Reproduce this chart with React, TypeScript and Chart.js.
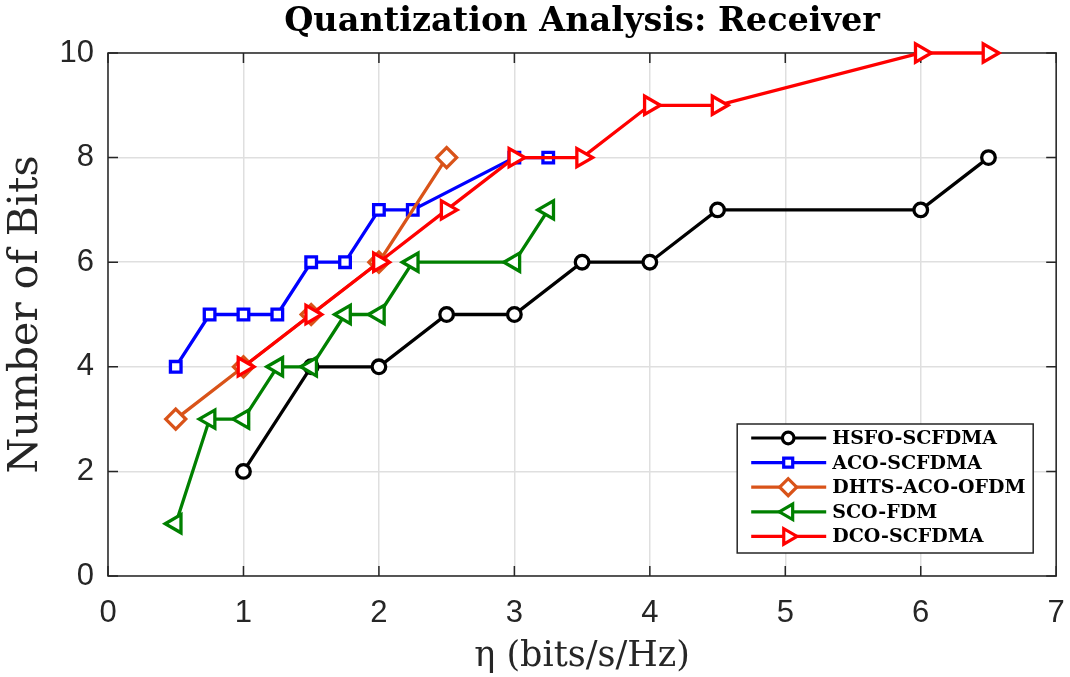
import React, { useEffect, useRef } from 'react';
import { Chart, registerables } from 'chart.js';
import { drawPoint } from 'chart.js/helpers';

Chart.register(...registerables);

const chartTitle = 'Quantization Analysis: Receiver';
const xAxisLabel = 'η (bits/s/Hz)';
const yAxisLabel = 'Number of Bits';

const seriesLabels = ['HSFO-SCFDMA', 'ACO-SCFDMA', 'DHTS-ACO-OFDM', 'SCO-FDM', 'DCO-SCFDMA'];
const seriesColors = ['#000000', '#0000ff', '#d95319', '#008000', '#ff0000'];

const hsfoX = [1, 1.5, 2, 2.5, 3, 3.5, 4, 4.5, 6, 6.5];
const hsfoY = [2, 4, 4, 5, 5, 6, 6, 7, 7, 8];
const acoX = [0.5, 0.75, 1, 1.25, 1.5, 1.75, 2, 2.25, 3, 3.25];
const acoY = [4, 5, 5, 5, 6, 6, 7, 7, 8, 8];
const dhtsX = [0.5, 1, 1.5, 2, 2.5];
const dhtsY = [3, 4, 5, 6, 8];
const scoX = [0.5, 0.75, 1, 1.25, 1.5, 1.75, 2, 2.25, 3, 3.25];
const scoY = [1, 3, 3, 4, 4, 5, 5, 6, 6, 7];
const dcoX = [1, 1.5, 2, 2.5, 3, 3.5, 4, 4.5, 6, 6.5];
const dcoY = [4, 5, 6, 7, 8, 8, 9, 9, 10, 10];

const xTicks = [0, 1, 2, 3, 4, 5, 6, 7];
const yTicks = [0, 2, 4, 6, 8, 10];

const markerStyles: any[] = [
  { pointStyle: 'circle', rotation: 0, radius: 6.8 },
  { pointStyle: 'rect', rotation: 0, radius: 7.5 },
  { pointStyle: 'rectRot', rotation: 0, radius: 10 },
  { pointStyle: 'triangle', rotation: -90, radius: 10.5 },
  { pointStyle: 'triangle', rotation: 90, radius: 10.5 },
];

const seriesX = [hsfoX, acoX, dhtsX, scoX, dcoX];
const seriesY = [hsfoY, acoY, dhtsY, scoY, dcoY];

const AXIS_COLOR = '#262626';
const GRID_COLOR = '#dfdfdf';

const boxPlugin = {
  id: 'matlabBox',
  beforeDatasetsDraw(chart: any) {
    const { ctx, chartArea: a, scales } = chart;
    ctx.save();
    ctx.strokeStyle = AXIS_COLOR;
    ctx.lineWidth = 1.5;
    ctx.strokeRect(a.left, a.top, a.right - a.left, a.bottom - a.top);
    const tl = 10;
    ctx.beginPath();
    for (const v of xTicks) {
      const px = scales.x.getPixelForValue(v);
      ctx.moveTo(px, a.bottom);
      ctx.lineTo(px, a.bottom - tl);
      ctx.moveTo(px, a.top);
      ctx.lineTo(px, a.top + tl);
    }
    for (const v of yTicks) {
      const py = scales.y.getPixelForValue(v);
      ctx.moveTo(a.left, py);
      ctx.lineTo(a.left + tl, py);
      ctx.moveTo(a.right, py);
      ctx.lineTo(a.right - tl, py);
    }
    ctx.stroke();
    ctx.restore();
  },
};

const legendPlugin = {
  id: 'matlabLegend',
  afterDatasetsDraw(chart: any) {
    const { ctx, chartArea: a } = chart;
    const w = 296;
    const h = 129;
    const left = a.right - 23 - w;
    const top = a.bottom - 23 - h;
    ctx.save();
    ctx.fillStyle = '#ffffff';
    ctx.fillRect(left, top, w, h);
    ctx.strokeStyle = AXIS_COLOR;
    ctx.lineWidth = 1.5;
    ctx.strokeRect(left, top, w, h);
    ctx.font = 'bold 19px "DejaVu Serif"';
    ctx.textBaseline = 'middle';
    ctx.textAlign = 'left';
    seriesLabels.forEach((label, i) => {
      const y = top + 14 + i * 24.6;
      ctx.strokeStyle = seriesColors[i];
      ctx.lineWidth = 3.2;
      ctx.beginPath();
      ctx.moveTo(left + 14, y);
      ctx.lineTo(left + 89, y);
      ctx.stroke();
      ctx.fillStyle = '#ffffff';
      const m = markerStyles[i];
      drawPoint(ctx, { pointStyle: m.pointStyle, rotation: m.rotation, radius: m.radius * 0.85, borderWidth: 3.2 }, left + 51, y);
      ctx.fillStyle = '#000000';
      ctx.fillText(label, left + 95, y + 1);
    });
    ctx.restore();
  },
};

export default function App() {
  const ref = useRef<HTMLCanvasElement | null>(null);
  useEffect(() => {
    if (!ref.current) return;
    const datasets = seriesLabels.map((label, i) => ({
      label,
      data: seriesX[i].map((x, j) => ({ x, y: seriesY[i][j] })),
      borderColor: seriesColors[i],
      backgroundColor: '#ffffff',
      borderWidth: 3.3,
      pointStyle: markerStyles[i].pointStyle,
      rotation: markerStyles[i].rotation,
      pointRadius: markerStyles[i].radius,
      pointBorderWidth: 3.3,
      pointBorderColor: seriesColors[i],
      pointBackgroundColor: '#ffffff',
      tension: 0,
      clip: false as any,
      order: seriesLabels.length - i,
    }));
    const chart = new Chart(ref.current, {
      type: 'line',
      data: { datasets },
      plugins: [boxPlugin, legendPlugin],
      options: {
        animation: false,
        responsive: false,
        layout: { padding: { left: 0, right: 13, top: 0, bottom: 0 } },
        plugins: {
          legend: { display: false },
          tooltip: { enabled: false },
          title: {
            display: true,
            text: chartTitle,
            fullSize: false,
            color: '#000000',
            font: { family: '"DejaVu Serif"', size: 33.5, weight: 'bold', lineHeight: 1 },
            padding: { top: 6, bottom: 13.5 },
          },
        },
        scales: {
          x: {
            type: 'linear',
            min: 0,
            max: 7,
            afterBuildTicks: (s: any) => {
              s.ticks = xTicks.map((v) => ({ value: v }));
            },
            afterFit: (s: any) => {
              s.height = 101;
              s.paddingLeft = 0;
              s.paddingRight = 0;
            },
            grid: { color: GRID_COLOR, lineWidth: 1.5, drawTicks: false },
            border: { display: false },
            ticks: {
              color: AXIS_COLOR,
              padding: 19,
              font: { family: '"Liberation Sans"', size: 31 },
              callback: (v: any) => String(v),
            },
            title: {
              display: true,
              text: xAxisLabel,
              color: AXIS_COLOR,
              font: { family: '"DejaVu Serif"', size: 35, lineHeight: 1.2 },
              padding: { top: 0, bottom: -1 },
            },
          },
          y: {
            type: 'linear',
            min: 0,
            max: 10,
            afterBuildTicks: (s: any) => {
              s.ticks = yTicks.map((v) => ({ value: v }));
            },
            afterFit: (s: any) => {
              s.width = 108;
              s.paddingTop = 0;
              s.paddingBottom = 0;
            },
            grid: { color: GRID_COLOR, lineWidth: 1.5, drawTicks: false },
            border: { display: false },
            ticks: {
              color: AXIS_COLOR,
              padding: 14,
              font: { family: '"Liberation Sans"', size: 31 },
              callback: (v: any) => String(v),
            },
            title: {
              display: true,
              text: yAxisLabel,
              color: AXIS_COLOR,
              font: { family: '"DejaVu Serif"', size: 41, lineHeight: 1.2 },
              padding: { top: 2, bottom: 0 },
            },
          },
        },
      },
    });
    return () => chart.destroy();
  }, []);
  return (
    <div style={{ position: 'fixed', left: 0, top: 0, width: 1070, height: 677, background: '#ffffff' }}>
      <canvas ref={ref} width={1070} height={677} style={{ display: 'block' }} />
    </div>
  );
}
